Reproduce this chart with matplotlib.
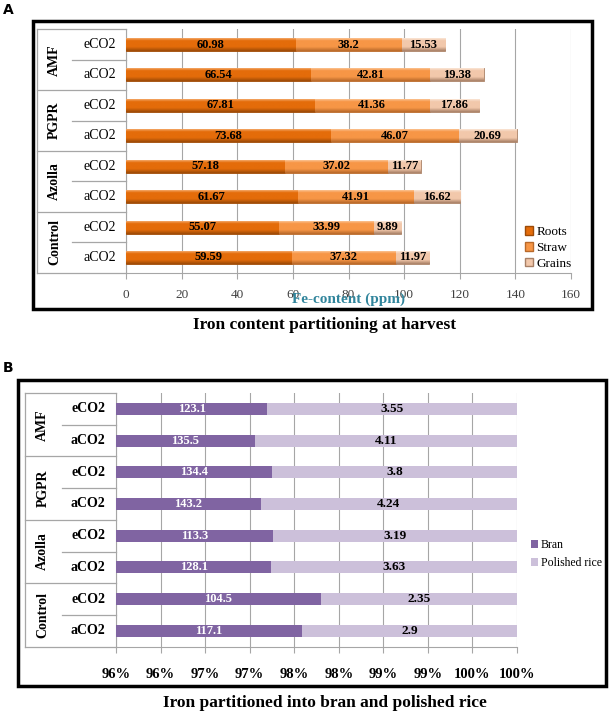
import numpy as np
import matplotlib
matplotlib.use('Agg')
import matplotlib.pyplot as plt
from matplotlib.patches import Rectangle, Patch
from matplotlib.colors import LinearSegmentedColormap

plt.rcParams['font.family'] = 'Liberation Serif'

groups = ['AMF', 'PGPR', 'Azolla', 'Control']
subs = ['eCO2', 'aCO2']

# panel A, Fe content (ppm), rows top to bottom
roots = [60.98, 66.54, 67.81, 73.68, 57.18, 61.67, 55.07, 59.59]
straw = [38.2, 42.81, 41.36, 46.07, 37.02, 41.91, 33.99, 37.32]
grains = [15.53, 19.38, 17.86, 20.69, 11.77, 16.62, 9.89, 11.97]

# panel B, bran vs polished rice
bran = [123.1, 135.5, 134.4, 143.2, 113.3, 128.1, 104.5, 117.1]
polished = [3.55, 4.11, 3.8, 4.24, 3.19, 3.63, 2.35, 2.9]

W, H = 609, 713
fig = plt.figure(figsize=(W / 100, H / 100), dpi=100)


def fx(px):
    return px / W


def fy(py):
    return 1 - py / H


def gradient_bars(ax, y, widths, lefts, light, mid, dark, height):
    # light top edge, flat body, darker bottom -> rough 3D look
    cmap = LinearSegmentedColormap.from_list(
        'g', [(0, light), (0.25, mid), (0.7, mid), (1, dark)])
    grad = np.linspace(0, 1, 64).reshape(-1, 1)
    bars = ax.barh(y, widths, left=lefts, height=height, color=mid,
                   edgecolor=dark, linewidth=0.6, zorder=3)
    for b in bars:
        x0, y0 = b.get_x(), b.get_y()
        im = ax.imshow(grad, cmap=cmap, aspect='auto', zorder=3.5,
                       extent=(x0, x0 + b.get_width(), y0 + b.get_height(), y0),
                       interpolation='bilinear')
        im.set_clip_path(b)
    return bars


def label_table(ax, left, subleft, gx, sx, bold_sub):
    tr = ax.get_yaxis_transform()
    kw = dict(color='#A6A6A6', lw=0.9, transform=tr, clip_on=False, zorder=1)
    ax.plot([left, left], [-0.5, 7.5], **kw)
    for k in range(5):
        ax.plot([left, 0], [k * 2 - 0.5, k * 2 - 0.5], **kw)
    for k in range(4):
        ax.plot([subleft, 0], [k * 2 + 0.5, k * 2 + 0.5], **kw)
    for i, g in enumerate(groups):
        ax.text(gx, i * 2 + 0.5, g, transform=tr, rotation=90, ha='center',
                va='center', fontsize=10, fontweight='bold')
        for j, s in enumerate(subs):
            ax.text(sx, i * 2 + j, s, transform=tr, ha='center', va='center',
                    fontsize=10, fontweight='bold' if bold_sub else 'normal')


def style_axis(ax, pad):
    for s in ['top', 'right']:
        ax.spines[s].set_visible(False)
    for s in ['left', 'bottom']:
        ax.spines[s].set_color('#A6A6A6')
    ax.set_yticks([])
    ax.set_ylim(7.5, -0.5)
    ax.tick_params(axis='x', colors='#A6A6A6', length=4, pad=pad)
    ax.grid(axis='x', color='#A6A6A6', lw=0.8, zorder=0)
    ax.set_axisbelow(True)


y = np.arange(8)

# ---------- panel A ----------
fig.text(fx(3), fy(10), 'A', fontsize=10, fontweight='bold', family='DejaVu Sans',
         va='center')
fig.add_artist(Rectangle((fx(33), fy(309)), fx(558.5), 288 / H, fill=False,
                         lw=2.5, ec='black', transform=fig.transFigure))
axA = fig.add_axes([fx(126), fy(272.7), fx(445), 243.4 / H])
style_axis(axA, 8)
axA.set_xlim(0, 160)
axA.set_xticks(np.arange(0, 161, 20))
for t in axA.get_xticklabels():
    t.set_color('#404040')
    t.set_fontsize(9.5)

r = np.array(roots)
s = np.array(straw)
g = np.array(grains)
h = 0.43
gradient_bars(axA, y, r, 0, '#FAC08F', '#E46C0A', '#9C4A07', h)
gradient_bars(axA, y, s, r, '#FCD5B0', '#F79646', '#B8692A', h)
gradient_bars(axA, y, g, r + s, '#FDF0E6', '#F2C8AB', '#A88066', h)
for i in range(8):
    axA.text(r[i] / 2, y[i], f'{roots[i]:g}', ha='center', va='center',
             fontsize=9, fontweight='bold', zorder=5)
    axA.text(r[i] + s[i] / 2, y[i], f'{straw[i]:g}', ha='center', va='center',
             fontsize=9, fontweight='bold', zorder=5)
    axA.text(r[i] + s[i] + g[i] / 2, y[i], f'{grains[i]:g}', ha='center',
             va='center', fontsize=9, fontweight='bold', zorder=5)
label_table(axA, -0.2, -0.1205, -0.1607, -0.0589, False)

axA.legend(handles=[Patch(fc='#E46C0A', ec='#9C4A07', label='Roots'),
                    Patch(fc='#F79646', ec='#B8692A', label='Straw'),
                    Patch(fc='#F2C8AB', ec='#A88066', label='Grains')],
           loc='center left', bbox_to_anchor=(fx(518), fy(248)),
           bbox_transform=fig.transFigure, frameon=False, fontsize=9.5,
           handlelength=0.6, handleheight=0.6, handletextpad=0.3,
           labelspacing=0.3, borderpad=0)

fig.text(fx(349), fy(299), 'Fe-content (ppm)', ha='center', va='center',
         fontsize=11, fontweight='bold', color='#31859C')
fig.text(fx(325), fy(325), 'Iron content partitioning at harvest', ha='center',
         va='center', fontsize=12.5, fontweight='bold')

# ---------- panel B ----------
fig.text(fx(3), fy(368), 'B', fontsize=10, fontweight='bold', family='DejaVu Sans',
         va='center')
fig.add_artist(Rectangle((fx(18.3), fy(686)), fx(588), 306 / H, fill=False,
                         lw=2.5, ec='black', transform=fig.transFigure))
axB = fig.add_axes([fx(116), fy(646.7), fx(401), 253.7 / H])
style_axis(axB, 11)
lo = 95.5
axB.set_xlim(lo, 100)
ticks = np.arange(95.5, 100.01, 0.5)
axB.set_xticks(ticks)
axB.set_xticklabels([f'{int(np.floor(t + 0.5))}%' for t in ticks],
                    fontsize=10.5, fontweight='bold', color='black')

b = np.array(bran)
p = np.array(polished)
share = b / (b + p) * 100
hb = 0.375
axB.barh(y, share, height=hb, color='#8064A2', zorder=3)
axB.barh(y, 100 - share, left=share, height=hb, color='#CCC0DA', zorder=3)
for i in range(8):
    axB.text((lo + share[i]) / 2, y[i], f'{bran[i]:g}', ha='center', va='center',
             fontsize=9, fontweight='bold', color='white', zorder=5)
    axB.text((share[i] + 100) / 2, y[i], f'{polished[i]:g}', ha='center',
             va='center', fontsize=9.5, fontweight='bold', zorder=5)
label_table(axB, -0.226, -0.135, -0.1825, -0.0696, True)

axB.legend(handles=[Patch(fc='#8064A2', label='Bran'),
                    Patch(fc='#CCC0DA', label='Polished rice')],
           loc='center left', bbox_to_anchor=(fx(525), fy(554)),
           bbox_transform=fig.transFigure, frameon=False, fontsize=8.5,
           handlelength=0.6, handleheight=0.6, handletextpad=0.25,
           labelspacing=0.5, borderpad=0)

fig.text(fx(325), fy(703), 'Iron partitioned into bran and polished rice',
         ha='center', va='center', fontsize=12.5, fontweight='bold')

fig.savefig('out.png', dpi=100)
